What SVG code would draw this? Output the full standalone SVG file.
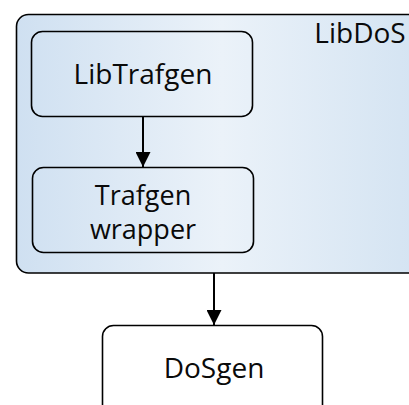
<svg xmlns="http://www.w3.org/2000/svg" width="409" height="405" viewBox="0 0 409 405">
<defs>
<linearGradient id="bg" x1="0" y1="0" x2="1" y2="0">
<stop offset="0" stop-color="#cfe0f1"/>
<stop offset="0.5" stop-color="#ebf2f9"/>
<stop offset="1" stop-color="#d3e3f2"/>
</linearGradient>
<marker id="arr" viewBox="0 0 10 10" refX="10" refY="5" markerWidth="15" markerHeight="15" markerUnits="userSpaceOnUse" orient="auto">
<path d="M0,0 L10,5 L0,10 Z" fill="#000"/>
</marker>
<style>
.box{fill:none;stroke:#000;stroke-width:1.6}
.t{font-family:"Open Sans","Liberation Sans",sans-serif;font-size:28px;fill:#0a0a0a;text-anchor:middle}
.s{font-size:27px}
.c{stroke:#000;stroke-width:2;fill:none}
</style>
</defs>
<g id="LibDoS">
<rect x="16.5" y="14.5" width="410" height="258.5" rx="12" fill="url(#bg)" stroke="#000" stroke-width="1.6"/>
<text class="t" x="360" y="43">LibDoS</text>
</g>
<g id="LibTrafgen">
<rect class="box" x="31.5" y="31.5" width="221" height="85" rx="11"/>
<text class="t" x="143" y="84">LibTrafgen</text>
</g>
<g id="TrafgenWrapper">
<rect class="box" x="32.5" y="167.5" width="221" height="85" rx="11"/>
<text class="t s" x="143" y="205">Trafgen</text>
<text class="t s" x="143" y="239">wrapper</text>
</g>
<g id="DoSgen">
<rect class="box" x="102.5" y="325.5" width="220" height="100" rx="11" fill="#fff"/>
<text class="t" x="214" y="378">DoSgen</text>
</g>
<g id="connectors">
<line class="c" x1="143" y1="117" x2="143" y2="167" marker-end="url(#arr)"/>
<line class="c" x1="214" y1="273" x2="214" y2="325" marker-end="url(#arr)"/>
</g>
</svg>
